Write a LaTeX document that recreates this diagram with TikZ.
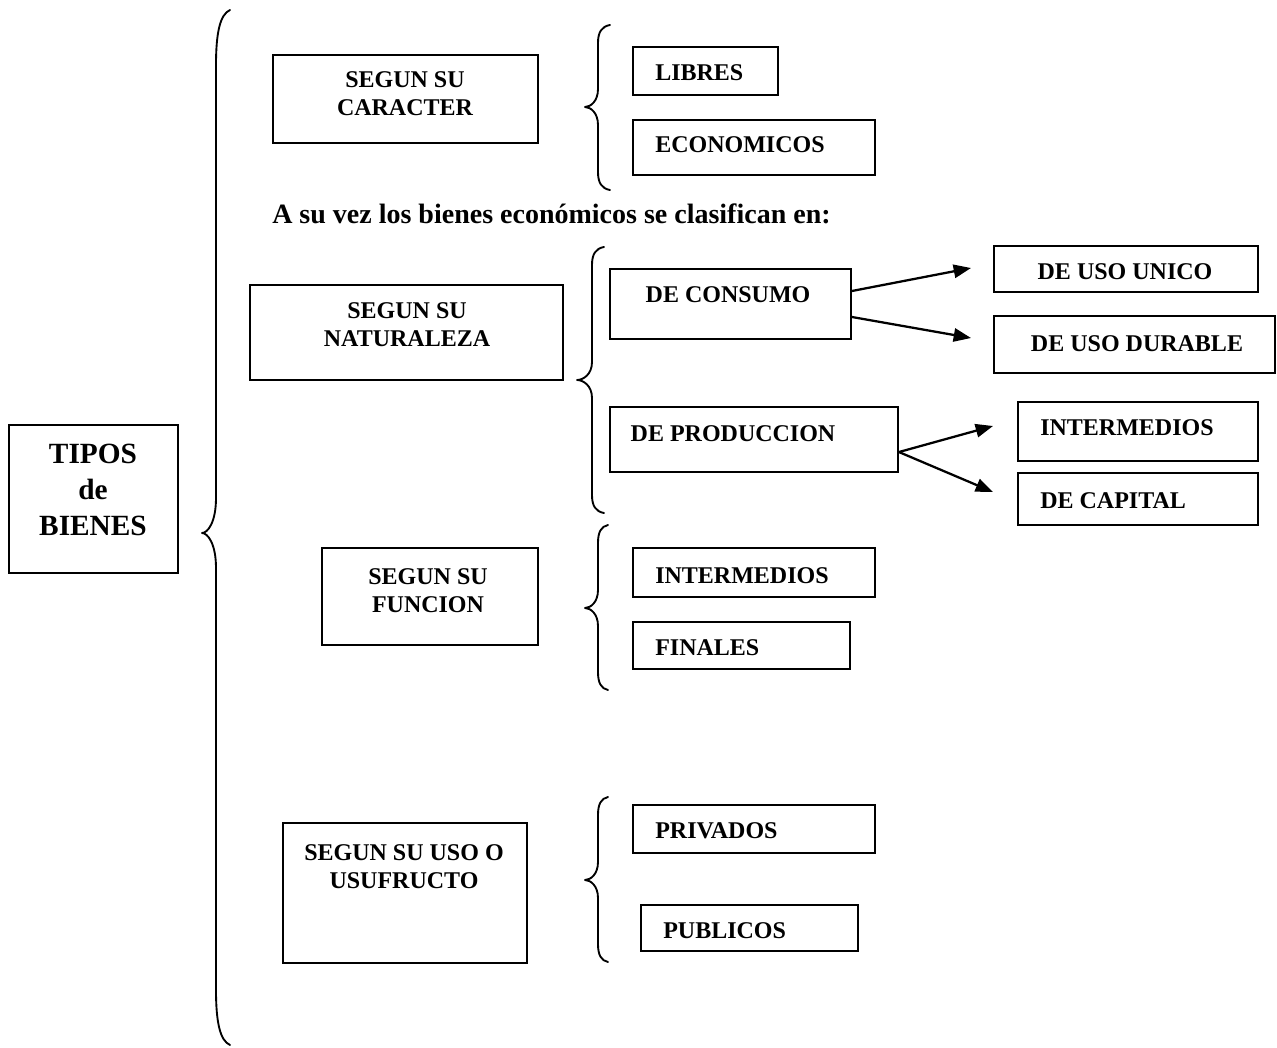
\documentclass[tikz,border=0pt]{standalone}
\usepackage{fontspec}
\setmainfont{Liberation Serif}
\usetikzlibrary{arrows.meta,fit}

\tikzset{
  box/.style={draw, line width=1.4pt, inner sep=0pt},
  lbl/.style={font=\bfseries\fontsize{18}{21}\selectfont, inner sep=0pt, align=center},
  lbll/.style={lbl, anchor=base west},
  lblc/.style={lbl, anchor=base},
  arr/.style={line width=1.7pt, -{Triangle[length=13pt,width=10pt]}},
  brace/.style={line width=1.4pt, line join=round, line cap=round}
}

% curly brace: tip x, stem x, end x, top y, middle y, bottom y, end bend, middle bend
\newcommand\curlybrace[8]{%
  \draw[brace] (#3,#4) .. controls ({#2+0.3*(#3-#2)},{#4+0.08*#7}) and (#2,{#4+0.4*#7}) .. (#2,{#4+#7})
    -- (#2,{#5-#8}) .. controls (#2,{#5-0.3*#8}) and ({#1+0.4*(#2-#1)},#5) .. (#1,#5)
    .. controls ({#1+0.4*(#2-#1)},#5) and (#2,{#5+0.3*#8}) .. (#2,{#5+#8})
    -- (#2,{#6-#7}) .. controls (#2,{#6-0.4*#7}) and ({#2+0.3*(#3-#2)},{#6-0.08*#7}) .. (#3,#6);}

\begin{document}
\begin{tikzpicture}[x=0.75pt, y=-0.75pt]
  \fill[white] (0,0) rectangle (1277,1048);
  \useasboundingbox (0,0) rectangle (1277,1048);

  % root
  \node[box, fit={(9,425) (178,573)}] (tipos) {};
  \node[font=\bfseries\fontsize{22}{27}\selectfont, inner sep=0pt, align=center, anchor=base]
    at (93,535) {TIPOS\\de\\BIENES};

  % main brace
  \curlybrace{202}{216}{230}{10}{533}{1045}{55}{35}

  % by character
  \node[box, fit={(273,55) (538,143)}] (caracter) {};
  \node[lblc] at (405,116) {SEGUN SU\\CARACTER};
  \curlybrace{585}{598}{610}{25}{107}{190}{18}{18}
  \node[box, fit={(633,47) (778,95)}] (libres) {};
  \node[lbll] at (655,81) {LIBRES};
  \node[box, fit={(633,120) (875,175)}] (econ) {};
  \node[lbll] at (655,153) {ECONOMICOS};

  \node[font=\bfseries\fontsize{21}{25}\selectfont, inner sep=0pt, anchor=base west]
    at (272,224) {A su vez los bienes económicos se clasifican en:};

  % by nature
  \node[box, fit={(250,285) (563,380)}] (natur) {};
  \node[lblc] at (407,347) {SEGUN SU\\NATURALEZA};
  \curlybrace{577}{592}{604}{247}{380}{513}{18}{18}
  \node[box, fit={(610,269) (851,339)}] (consumo) {};
  \node[lblc] at (728,303) {DE CONSUMO};
  \node[box, fit={(610,407) (898,472)}] (produc) {};
  \node[lblc] at (733,441) {DE PRODUCCION};

  \node[box, fit={(994,246) (1258,292)}] (unico) {};
  \node[lblc] at (1125,280) {DE USO UNICO};
  \node[box, fit={(994,316) (1275,373)}] (durable) {};
  \node[lblc] at (1137,351) {DE USO DURABLE};
  \node[box, fit={(1018,402) (1258,461)}] (intermB) {};
  \node[lbll] at (1040,435) {INTERMEDIOS};
  \node[box, fit={(1018,473) (1258,525)}] (capital) {};
  \node[lbll] at (1040,508) {DE CAPITAL};

  \coordinate (tUnico) at (971,268);
  \coordinate (tDurable) at (971,338);
  \coordinate (tInterm) at (993,426);
  \coordinate (tCapital) at (993,492);
  \draw[arr] ([yshift=9.75pt]consumo.east) -- (tUnico);
  \draw[arr] ([yshift=-9.75pt]consumo.east) -- (tDurable);
  \draw[arr] ([yshift=-9.4pt]produc.east) -- (tInterm);
  \draw[arr] ([yshift=-9.4pt]produc.east) -- (tCapital);

  % by function
  \node[box, fit={(322,548) (538,645)}] (funcion) {};
  \node[lblc] at (428,612) {SEGUN SU\\FUNCION};
  \curlybrace{585}{598}{608}{525}{608}{690}{18}{18}
  \node[box, fit={(633,548) (875,597)}] (interm) {};
  \node[lbll] at (655,583) {INTERMEDIOS};
  \node[box, fit={(633,622) (850,669)}] (finales) {};
  \node[lbll] at (655,655) {FINALES};

  % by use
  \node[box, fit={(283,823) (527,963)}] (uso) {};
  \node[lblc] at (404,888) {SEGUN SU USO O\\USUFRUCTO};
  \curlybrace{585}{598}{608}{797}{880}{962}{18}{18}
  \node[box, fit={(633,805) (875,853)}] (privados) {};
  \node[lbll] at (655,838) {PRIVADOS};
  \node[box, fit={(641,905) (858,951)}] (publicos) {};
  \node[lbll] at (663,938) {PUBLICOS};
\end{tikzpicture}
\end{document}
